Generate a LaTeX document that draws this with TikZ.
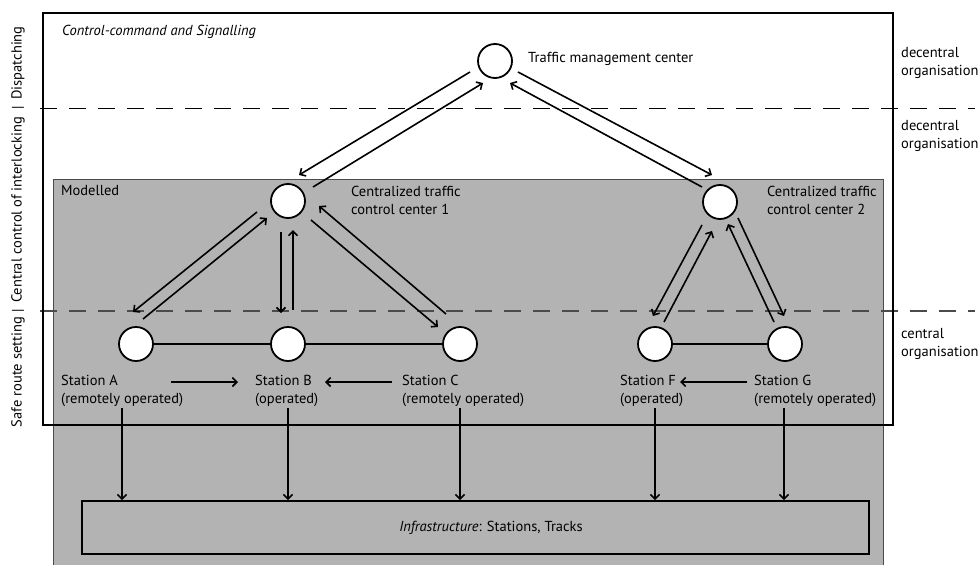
\documentclass[tikz,border=0pt]{standalone}
\usepackage{fontspec}
\setmainfont{PT Sans}
\usetikzlibrary{arrows.meta,calc}
\definecolor{modelgray}{RGB}{179,179,179}
\definecolor{dashgray}{RGB}{75,75,75}

\begin{document}
\begin{tikzpicture}[x=1pt,y=-1pt,
  every node/.style={font=\fontsize{14.5}{18}\selectfont, inner sep=0pt},
  station/.style={circle, draw, line width=1.8pt, fill=white, minimum size=34pt},
  link/.style={line width=1.6pt, -{Straight Barb[length=4.5pt,width=9pt]}},
  track/.style={line width=1.8pt},
  frame/.style={line width=1.8pt},
  level/.style={dash pattern=on 17pt off 12pt, line width=1pt},
  txt/.style={anchor=west, align=left},
  side/.style={rotate=90, anchor=center}
]
\useasboundingbox (0,0) rectangle (978,565);

% modelled part of the system
\draw[fill=modelgray, draw=dashgray, line width=0.8pt] (53,179) rectangle (883,575);

% level separators
\draw[level] (40,108) -- (975,108);
\draw[level, draw=dashgray, line width=1.2pt] (40,311) -- (975,311);

% control-command and signalling frame
\draw[frame] (43,13) rectangle (893,425);

% infrastructure
\node[draw, frame, minimum width=787pt, minimum height=53pt] (infra) at (475.5,527.5) {};
\node (infratxt) at (491,528) {\textit{Infrastructure}: Stations, Tracks};

% nodes
\node[station] (tmc) at (495,61) {};
\node[station] (c1) at (288,201) {};
\node[station] (c2) at (720,202) {};
\node[station] (sa) at (136,344) {};
\node[station] (sb) at (288,344) {};
\node[station] (sc) at (460,344) {};
\node[station] (sf) at (655,344) {};
\node[station] (sg) at (785,344) {};

% tracks between stations
\draw[track] (sa) -- (sb);
\draw[track] (sb) -- (sc);
\draw[track] (sf) -- (sg);

% labels
\node[txt] (title) at (62,32) {\textit{Control-command and Signalling}};
\node[txt] (model) at (61,191) {Modelled};
\node[txt] (ltmc) at (528,59) {Traffic management center};
\node[txt] (lc1) at (351,200) {Centralized traffic\\control center 1};
\node[txt] (lc2) at (767,200) {Centralized traffic\\control center 2};
\node[txt] (la) at (61,391) {Station A\\(remotely operated)};
\node[txt] (lb) at (255,391) {Station B\\(operated)};
\node[txt] (lc) at (402,391) {Station C\\(remotely operated)};
\node[txt] (lf) at (620,391) {Station F\\(operated)};
\node[txt] (lg) at (754,391) {Station G\\(remotely operated)};

\node[txt] (org1) at (901,63) {decentral\\organisation};
\node[txt] (org2) at (901,136) {decentral\\organisation};
\node[txt] (org3) at (901,344) {central\\organisation};

\node[side] (lev1) at (18,63) {Dispatching};
\node[side] (sep1) at (18,108) {|};
\node[side] (lev2) at (18,210) {Central control of interlocking};
\node[side] (sep2) at (18,311) {|};
\node[side] (lev3) at (18,372) {Safe route setting};

% traffic management center <-> control centers
\draw[link] ($(tmc)+(-25,11)$) -- ($(c1)+(11,-26)$);
\draw[link] ($(c1)+(25,-14)$) -- ($(tmc)+(-12,22)$);
\draw[link] ($(tmc)+(23,11)$) -- ($(c2)+(-8,-27)$);
\draw[link] ($(c2)+(-18,-15)$) -- ($(tmc)+(15,22)$);

% control center 1 <-> stations A, B, C
\draw[link] ($(c1)+(-31,11)$) -- ($(sa)+(-3,-32)$);
\draw[link] ($(sa)+(7,-25)$) -- ($(c1)+(-21,17)$);
\draw[link] ($(c1)+(-7,31)$) -- ($(sb)+(-7,-31)$);
\draw[link] ($(sb)+(5,-34)$) -- ($(c1)+(5,29)$);
\draw[link] ($(c1)+(23,19)$) -- ($(sc)+(-22,-17)$);
\draw[link] ($(sc)+(-14,-30)$) -- ($(c1)+(31,5)$);

% control center 2 <-> stations F, G
\draw[link] ($(c2)+(-18,23)$) -- ($(sf)+(-2,-28)$);
\draw[link] ($(sf)+(9,-22)$) -- ($(c2)+(-8,29)$);
\draw[link] ($(c2)+(18,16)$) -- ($(sg)+(-1,-28)$);
\draw[link] ($(sg)+(-11,-22)$) -- ($(c2)+(8,22)$);

% remote operation between stations
\draw[link] ($(sa)+(35,38)$) -- ($(sb)+(-50,38)$);
\draw[link] ($(sc)+(-68,38)$) -- ($(sb)+(37,38)$);
\draw[link] ($(sg)+(-38,38)$) -- ($(sf)+(25,38)$);

% stations -> infrastructure
\coordinate (da) at ($(sa)+(-14,64)$);
\coordinate (db) at ($(sb)+(0,64)$);
\coordinate (dc) at ($(sc)+(0,64)$);
\coordinate (df) at ($(sf)+(0,64)$);
\coordinate (dg) at ($(sg)+(-1,64)$);
\foreach \p in {da,db,dc,df,dg}
  \draw[link] (\p) -- (\p |- infra.north);
\end{tikzpicture}
\end{document}
